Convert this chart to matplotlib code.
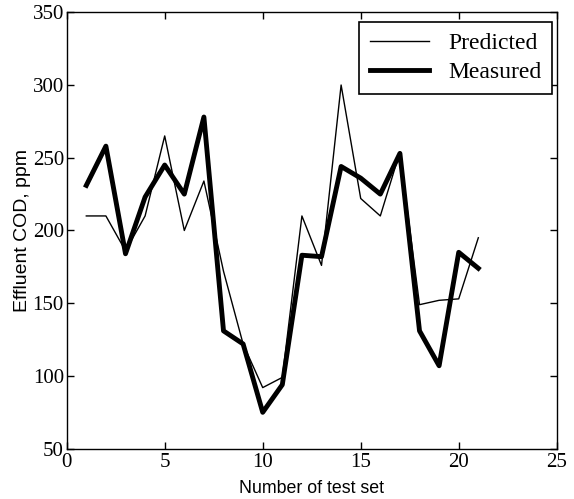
import numpy as np
import matplotlib
matplotlib.use("Agg")
import matplotlib.pyplot as plt

# test set numbers and effluent COD values (ppm)
test_set = [1, 2, 3, 4, 5, 6, 7, 8, 9, 10, 11, 12, 13, 14, 15, 16, 17, 18, 19, 20, 21]
predicted = [210, 210, 186, 210, 265, 200, 234, 172, 122, 92, 99, 210, 176, 300, 222, 210, 254, 149, 152, 153, 195]
measured = [231, 258, 184, 223, 245, 225, 278, 131, 122, 75, 94, 183, 182, 244, 236, 225, 253, 131, 107, 185, 174]

x_ticks = [0, 5, 10, 15, 20, 25]
y_ticks = [50, 100, 150, 200, 250, 300, 350]

serif = ['Liberation Serif', 'DejaVu Serif']
sans = ['Liberation Sans', 'DejaVu Sans']

fig = plt.figure(figsize=(5.74, 4.99), dpi=100)
ax = fig.add_axes([0.1162, 0.1008, 0.8537, 0.8746])

ax.plot(test_set, predicted, color='black', lw=1.0, label='Predicted')
ax.plot(test_set, measured, color='black', lw=3.5, label='Measured')

ax.set_xlim(0, 25)
ax.set_ylim(50, 350)
ax.set_xticks(x_ticks)
ax.set_yticks(y_ticks)
ax.tick_params(direction='in', length=5, width=1, top=True, right=True, pad=3)
ax.tick_params(axis='y', pad=2)
for lbl in ax.get_xticklabels() + ax.get_yticklabels():
    lbl.set_family(serif)
    lbl.set_fontsize(15)
for sp in ax.spines.values():
    sp.set_linewidth(1.0)

ax.set_xlabel('Number of test set', family=sans, fontsize=12.8, labelpad=6)
ax.set_ylabel('Effluent COD, ppm', family=sans, fontsize=14, labelpad=1)

leg = ax.legend(loc='upper right', bbox_to_anchor=(0.99, 0.977),
                prop={'family': serif, 'size': 17}, fancybox=False,
                framealpha=1, edgecolor='black', handlelength=2.5,
                handletextpad=0.8, labelspacing=0.3, borderpad=0.45,
                borderaxespad=0)
leg.get_frame().set_linewidth(1.2)

fig.savefig('out.png', dpi=100)
